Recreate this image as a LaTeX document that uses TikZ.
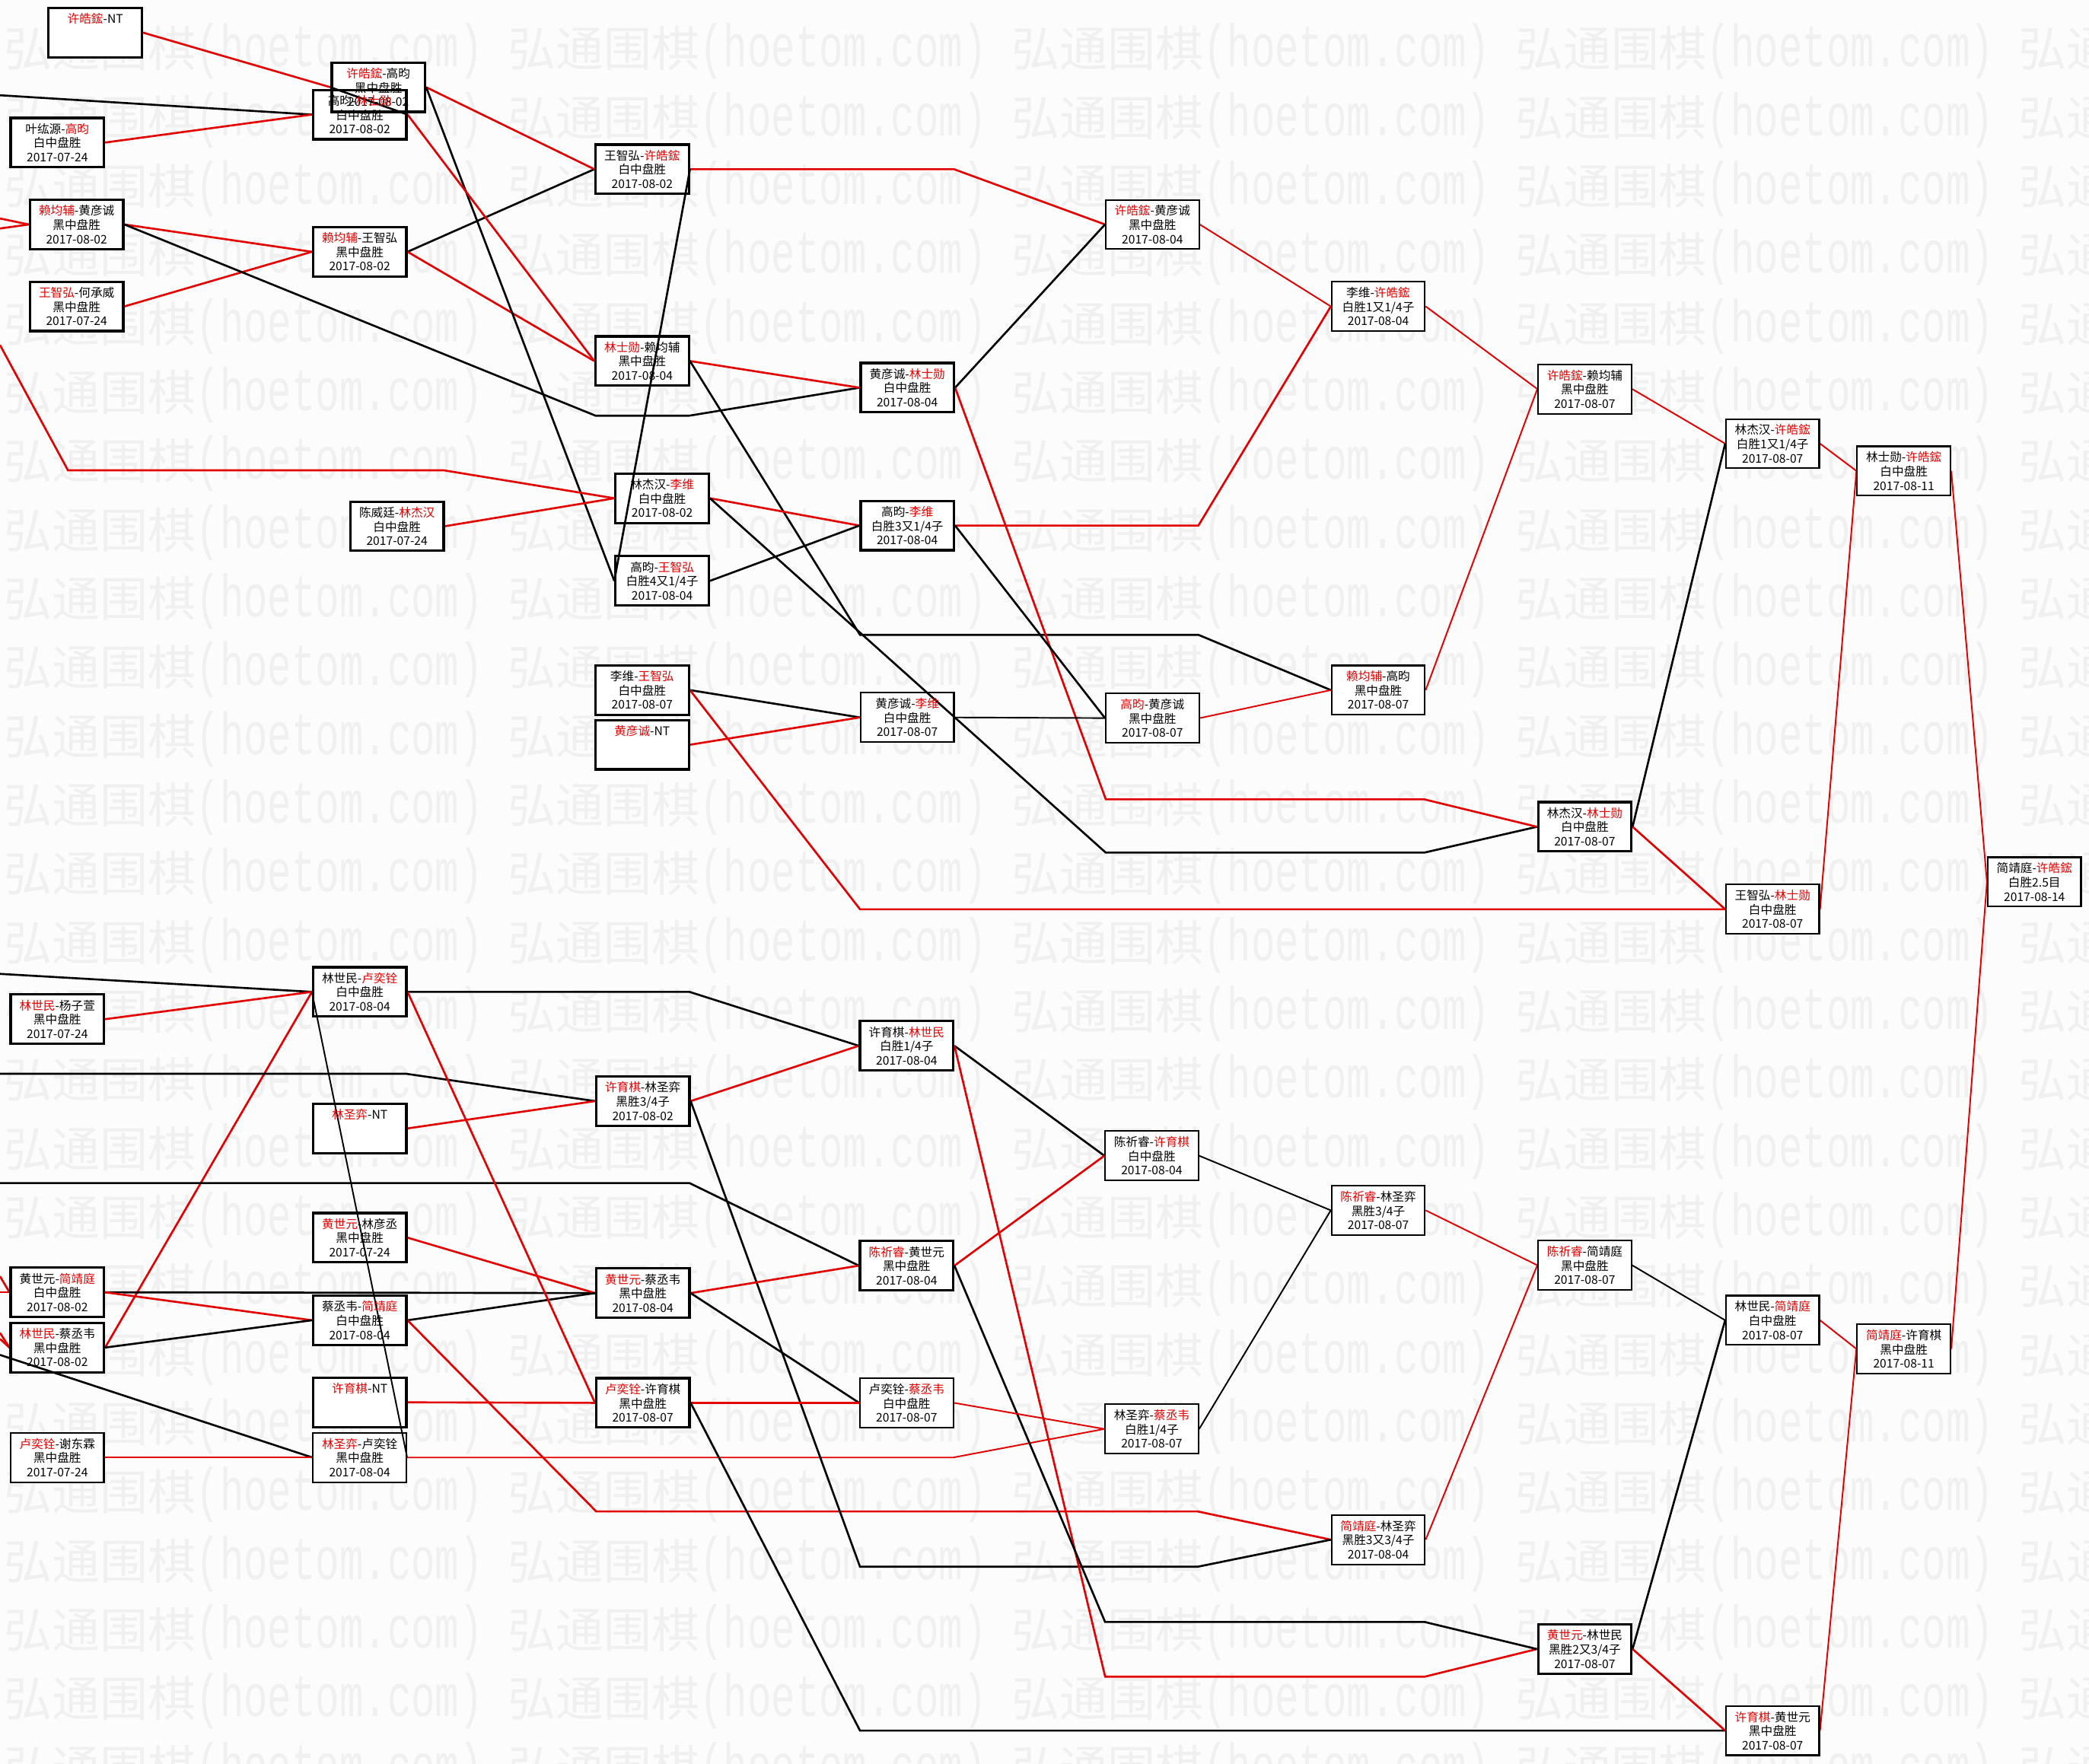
\documentclass[tikz,border=0pt]{standalone}
\usepackage{fontspec}
\usepackage{graphicx}
\setmainfont{Noto Sans CJK SC}
\newfontfamily\wmmono{Liberation Mono}
\definecolor{wr}{RGB}{228,0,0}
\definecolor{wmc}{RGB}{240,240,240}
\definecolor{bgc}{RGB}{252,252,252}
\newcommand{\R}[1]{\textcolor{wr}{#1}}
\pgfdeclarelayer{wmlayer}
\pgfdeclarelayer{filllayer}
\pgfdeclarelayer{linelayer}
\pgfsetlayers{wmlayer,filllayer,linelayer,main}
\tikzset{
 bx/.style={draw=black, line width=0.9pt, minimum width=1.225cm, minimum height=0.6475cm, inner sep=0pt, align=center, font=\fontsize{4.45pt}{5.3pt}\selectfont},
 bxt/.style={bx, line width=0.6pt},
 rl/.style={draw=wr, line width=0.75pt},
 bl/.style={draw=black, line width=0.75pt},
 rt/.style={draw=wr, line width=0.55pt},
 btl/.style={draw=black, line width=0.55pt},
 wmtext/.style={text=wmc, inner sep=0pt, anchor=west},
}
\begin{document}
\begin{tikzpicture}[x=0.0175cm,y=-0.0175cm]
\useasboundingbox (0,0) rectangle (1568,1324);

\begin{pgfonlayer}{wmlayer}
\fill[bgc] (0,0) rectangle (1568,1324);
\clip (0,0) rectangle (1568,1324);
\foreach \j in {0,...,25} {
  \foreach \i in {0,...,4} {
    \node[wmtext] at ({3+378*\i},{38.5+51.6*\j}) {\fontsize{17.9pt}{18pt}\selectfont 弘通围棋{\wmmono\fontsize{14.9pt}{15pt}\selectfont\scalebox{1}[1.5]{(hoetom.com)}}};
  }
}
\end{pgfonlayer}

% ---------- top half ----------
\node[bx] (A1) at (71.5,24.5) {\R{许皓鋐}-NT\\~\\~};
\node[bx] (A2) at (43,107) {叶纮源-\R{高昀}\\白中盘胜\\2017-07-24};
\node[bx] (A3) at (57.5,168.5) {\R{赖均辅}-黄彦诚\\黑中盘胜\\2017-08-02};
\node[bx] (A4) at (57.5,230) {\R{王智弘}-何承威\\黑中盘胜\\2017-07-24};
\node[bx] (A5) at (298,395) {陈威廷-\R{林杰汉}\\白中盘胜\\2017-07-24};
\node[bx] (B1) at (284,65.5) {\R{许皓鋐}-高昀\\黑中盘胜\\2017-08-02};
\node[bx] (B2) at (270,86) {高昀-\R{林士勋}\\白中盘胜\\2017-08-02};
\node[bx] (B3) at (270,189) {\R{赖均辅}-王智弘\\黑中盘胜\\2017-08-02};
\node[bx] (C1) at (482,127) {王智弘-\R{许皓鋐}\\白中盘胜\\2017-08-02};
\node[bx] (C2) at (482,271) {\R{林士勋}-赖均辅\\黑中盘胜\\2017-08-04};
\node[bx] (C3) at (497,374) {林杰汉-\R{李维}\\白中盘胜\\2017-08-02};
\node[bx] (C4) at (497,436) {高昀-\R{王智弘}\\白胜4又1/4子\\2017-08-04};
\node[bx] (C5) at (482,518) {李维-\R{王智弘}\\白中盘胜\\2017-08-07};
\node[bx] (C6) at (482,559) {\R{黄彦诚}-NT\\~\\~};
\node[bx] (D1) at (681,291) {黄彦诚-\R{林士勋}\\白中盘胜\\2017-08-04};
\node[bx] (D2) at (681,394.5) {高昀-\R{李维}\\白胜3又1/4子\\2017-08-04};
\node[bxt] (D3) at (681,538.5) {黄彦诚-\R{李维}\\白中盘胜\\2017-08-07};
\node[bxt] (E1) at (865,168.5) {\R{许皓鋐}-黄彦诚\\黑中盘胜\\2017-08-04};
\node[bxt] (E2) at (865,539) {\R{高昀}-黄彦诚\\黑中盘胜\\2017-08-07};
\node[bxt] (F1) at (1034.5,230) {李维-\R{许皓鋐}\\白胜1又1/4子\\2017-08-04};
\node[bxt] (F2) at (1034.5,518) {\R{赖均辅}-高昀\\黑中盘胜\\2017-08-07};
\node[bxt] (G1) at (1189.5,292) {\R{许皓鋐}-赖均辅\\黑中盘胜\\2017-08-07};
\node[bx] (G2) at (1189.5,620.6) {林杰汉-\R{林士勋}\\白中盘胜\\2017-08-07};
\node[bxt] (H1) at (1330.5,333) {林杰汉-\R{许皓鋐}\\白胜1又1/4子\\2017-08-07};
\node[bxt] (H2) at (1330.5,682.5) {王智弘-\R{林士勋}\\白中盘胜\\2017-08-07};
\node[bxt] (I1) at (1429,353.5) {林士勋-\R{许皓鋐}\\白中盘胜\\2017-08-11};
\node[bxt] (I2) at (1429,1012.5) {\R{简靖庭}-许育棋\\黑中盘胜\\2017-08-11};
\node[bxt] (J1) at (1527,662) {简靖庭-\R{许皓鋐}\\白胜2.5目\\2017-08-14};

% ---------- bottom half ----------
\node[bx] (a1) at (43,765) {\R{林世民}-杨子萱\\黑中盘胜\\2017-07-24};
\node[bx] (a2) at (43,970) {黄世元-\R{简靖庭}\\白中盘胜\\2017-08-02};
\node[bx] (a3) at (43,1011.5) {\R{林世民}-蔡丞韦\\黑中盘胜\\2017-08-02};
\node[bxt] (a4) at (43,1094) {\R{卢奕铨}-谢东霖\\黑中盘胜\\2017-07-24};
\node[bx] (b1) at (270,744.5) {林世民-\R{卢奕铨}\\白中盘胜\\2017-08-04};
\node[bx] (b2) at (270,847) {\R{林圣弈}-NT\\~\\~};
\node[bx] (b3) at (270,929) {\R{黄世元}-林彦丞\\黑中盘胜\\2017-07-24};
\node[bx] (b4) at (270,991) {蔡丞韦-\R{简靖庭}\\白中盘胜\\2017-08-04};
\node[bx] (b5) at (270,1052.6) {\R{许育棋}-NT\\~\\~};
\node[bxt] (b6) at (270,1094) {\R{林圣弈}-卢奕铨\\黑中盘胜\\2017-08-04};
\node[bx] (c1) at (482.5,826.5) {\R{许育棋}-林圣弈\\黑胜3/4子\\2017-08-02};
\node[bx] (c2) at (482.5,970.6) {\R{黄世元}-蔡丞韦\\黑中盘胜\\2017-08-04};
\node[bx] (c3) at (482.5,1053) {\R{卢奕铨}-许育棋\\黑中盘胜\\2017-08-07};
\node[bx] (d1) at (680.5,785) {许育棋-\R{林世民}\\白胜1/4子\\2017-08-04};
\node[bx] (d2) at (680.5,950) {\R{陈祈睿}-黄世元\\黑中盘胜\\2017-08-04};
\node[bxt] (d3) at (680.5,1053) {卢奕铨-\R{蔡丞韦}\\白中盘胜\\2017-08-07};
\node[bxt] (e1) at (864.5,867.5) {陈祈睿-\R{许育棋}\\白中盘胜\\2017-08-04};
\node[bxt] (e2) at (864.5,1072.6) {林圣弈-\R{蔡丞韦}\\白胜1/4子\\2017-08-07};
\node[bxt] (f1) at (1034.5,908.5) {\R{陈祈睿}-林圣弈\\黑胜3/4子\\2017-08-07};
\node[bxt] (f2) at (1034.5,1155.7) {\R{简靖庭}-林圣弈\\黑胜3又3/4子\\2017-08-04};
\node[bxt] (g1) at (1189.5,949.7) {\R{陈祈睿}-简靖庭\\黑中盘胜\\2017-08-07};
\node[bx] (g2) at (1189.5,1237.8) {\R{黄世元}-林世民\\黑胜2又3/4子\\2017-08-07};
\node[bxt] (h1) at (1330.5,991) {林世民-\R{简靖庭}\\白中盘胜\\2017-08-07};
\node[bxt] (h2) at (1330.5,1299) {\R{许育棋}-黄世元\\黑中盘胜\\2017-08-07};

\begin{pgfonlayer}{filllayer}
\foreach \n in {A1,A2,A3,A4,A5,B1,B2,B3,C1,C2,C3,C4,C5,C6,D1,D2,D3,E1,E2,F1,F2,G1,G2,H1,H2,I1,I2,J1,a1,a2,a3,a4,b1,b2,b3,b4,b5,b6,c1,c2,c3,d1,d2,d3,e1,e2,f1,f2,g1,g2,h1,h2}
  \fill[white] (\n.south west) rectangle (\n.north east);
\end{pgfonlayer}

\begin{pgfonlayer}{linelayer}
% top
\coordinate (t1) at (0,71.5);
\coordinate (t2) at (0,164);
\coordinate (t3) at (0,171.5);
\coordinate (t4) at (0,259);
\draw[bl] (t1) -- (B2.west);
\draw[rl] (A1.east) -- (B1.west);
\draw[rl] (A2.east) -- (B2.west);
\draw[rl] (t2) -- (A3.west);
\draw[rl] (t3) -- (A3.west);
\draw[rl] (A3.east) -- (B3.west);
\draw[rl] (A4.east) -- (B3.west);
\draw[bl] (A3.east) -- (447,312) -- (517.5,312) -- (D1.west);
\draw[bl] (B3.east) -- (C1.west);
\draw[rl] (B3.east) -- (C2.west);
\draw[rl] (B1.east) -- (C1.west);
\draw[bl] (B1.east) -- (C4.west);
\draw[rl] (B2.east) -- (C2.west);
\draw[bl] (B2.east) -- (B1.west);
\draw[rl] (C1.east) -- (645.5,127) -- (716,127) -- (E1.west);
\draw[bl] (C1.east) -- (C4.west);
\draw[rl] (C2.east) -- (D1.west);
\draw[bl] (C2.east) -- (645.5,476.5) -- (899.5,476.5) -- (F2.west);
\draw[rl] (t4) -- (51,353) -- (333,353) -- (C3.west);
\draw[rl] (A5.east) -- (C3.west);
\draw[rl] (C3.east) -- (D2.west);
\draw[bl] (C3.east) -- (830,640) -- (1069,640) -- (G2.west);
\draw[bl] (C4.east) -- (D2.west);
\draw[bl] (D1.east) -- (E1.west);
\draw[rl] (D1.east) -- (830,600) -- (1069,600) -- (G2.west);
\draw[rl] (D2.east) -- (830,394.5) -- (899.5,394.5) -- (F1.west);
\draw[bl] (D2.east) -- (E2.west);
\draw[bl] (C5.east) -- (D3.west);
\draw[rl] (C5.east) -- (645.5,682.5) -- (H2.west);
\draw[rl] (C6.east) -- (D3.west);
\draw[btl] (D3.east) -- (E2.west);
\draw[rt] (E1.east) -- (F1.west);
\draw[rt] (E2.east) -- (F2.west);
\draw[rt] (F1.east) -- (G1.west);
\draw[rt] (F2.east) -- (G1.west);
\draw[rt] (G1.east) -- (H1.west);
\draw[bl] (G2.east) -- (H1.west);
\draw[rl] (G2.east) -- (H2.west);
\draw[rt] (H1.east) -- (I1.west);
\draw[rt] (H2.east) -- (I1.west);
\draw[rt] (I1.east) -- (J1.west);
\draw[rt] (I2.east) -- (J1.west);
% bottom
\coordinate (u1) at (0,731);
\coordinate (u2) at (0,806);
\coordinate (u3) at (0,888);
\coordinate (u4) at (0,958);
\coordinate (u5) at (0,970);
\coordinate (u6) at (0,1000.5);
\coordinate (u7) at (0,1005);
\coordinate (u8) at (0,1017);
\draw[bl] (u1) -- (b1.west);
\draw[rl] (a1.east) -- (b1.west);
\draw[rl] (a3.east) -- (b1.west);
\draw[btl] (b6.east) -- (b1.west);
\draw[bl] (u2) -- (305,806) -- (c1.west);
\draw[rl] (b2.east) -- (c1.west);
\draw[bl] (u3) -- (517.5,888) -- (d2.west);
\draw[rl] (u4) -- (a2.west);
\draw[rl] (u5) -- (a2.west);
\draw[rl] (u6) -- (a3.west);
\draw[rl] (u7) -- (a3.west);
\draw[bl] (u8) -- (b6.west);
\draw[bl] (a2.east) -- (c2.west);
\draw[rl] (a2.east) -- (b4.west);
\draw[bl] (a3.east) -- (b4.west);
\draw[rt] (a4.east) -- (b6.west);
\draw[rl] (b3.east) -- (c2.west);
\draw[bl] (b4.east) -- (c2.west);
\draw[rl] (b4.east) -- (447.5,1134.5) -- (899,1134.5) -- (f2.west);
\draw[bl] (b1.east) -- (447.5,744.5) -- (517.5,744.5) -- (d1.west);
\draw[rl] (b1.east) -- (c3.west);
\draw[rl] (b5.east) -- (c3.west);
\draw[rt] (b6.east) -- (715.5,1094) -- (e2.west);
\draw[rl] (c1.east) -- (d1.west);
\draw[bl] (c1.east) -- (645.5,1176) -- (899,1176) -- (f2.west);
\draw[rl] (c2.east) -- (d2.west);
\draw[bl] (c2.east) -- (d3.west);
\draw[rl] (c3.east) -- (d3.west);
\draw[bl] (c3.east) -- (645.5,1299) -- (h2.west);
\draw[bl] (d1.east) -- (e1.west);
\draw[rl] (d1.east) -- (829.5,1258.5) -- (1069.5,1258.5) -- (g2.west);
\draw[rl] (d2.east) -- (e1.west);
\draw[bl] (d2.east) -- (829.5,1217.5) -- (1069.5,1217.5) -- (g2.west);
\draw[rt] (d3.east) -- (e2.west);
\draw[btl] (e1.east) -- (f1.west);
\draw[btl] (e2.east) -- (f1.west);
\draw[rt] (f1.east) -- (g1.west);
\draw[rt] (f2.east) -- (g1.west);
\draw[btl] (g1.east) -- (h1.west);
\draw[bl] (g2.east) -- (h1.west);
\draw[rl] (g2.east) -- (h2.west);
\draw[rt] (h1.east) -- (I2.west);
\draw[rt] (h2.east) -- (I2.west);
\end{pgfonlayer}
\end{tikzpicture}
\end{document}
